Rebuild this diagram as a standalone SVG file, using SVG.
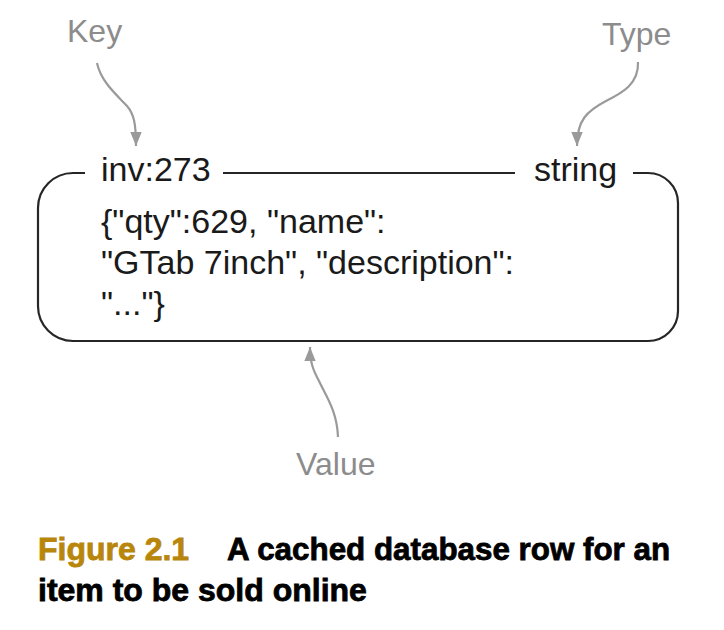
<svg xmlns="http://www.w3.org/2000/svg" width="724" height="630" viewBox="0 0 724 630">
<defs>
<style>
.lbl{font-family:"Liberation Sans",Arial,sans-serif;font-size:32px;fill:#8c8c8c}
.txt{font-family:"Liberation Sans",Arial,sans-serif;font-size:34px;fill:#1a1a1a}
.box{fill:none;stroke:#262626;stroke-width:2.2}
.arr{fill:none;stroke:#9a9a9a;stroke-width:2.2}
.cap{font-family:"Liberation Sans",Arial,sans-serif;font-size:32px;font-weight:bold;stroke-width:0.8}
</style>
<marker id="ah" markerUnits="userSpaceOnUse" markerWidth="14" markerHeight="18" refX="16" refY="6.5" orient="auto" viewBox="0 0 16 13">
<path d="M0,0 L16,6.5 L0,13 Z" fill="#9a9a9a"/>
</marker>
</defs>
<rect width="724" height="630" fill="#ffffff"/>
<g id="record">
<path class="box" d="M85,173 H73 A35,35 0 0 0 38,208 V306 A35,35 0 0 0 73,341 H648 A30,30 0 0 0 678,311 V203 A30,30 0 0 0 648,173 H633"/>
<line class="box" x1="223" y1="173" x2="515" y2="173"/>
<text class="txt" x="101" y="181">inv:273</text>
<text class="txt" x="534" y="181">string</text>
<text class="txt" x="101" y="233">{"qty":629, "name":</text>
<text class="txt" x="101" y="274">"GTab 7inch", "description":</text>
<text class="txt" x="101" y="315">"..."}</text>
</g>
<g id="key-label"><text class="lbl" x="67" y="42">Key</text></g>
<g id="type-label"><text class="lbl" x="602" y="45">Type</text></g>
<g id="value-label"><text class="lbl" x="296" y="475">Value</text></g>
<g id="connectors">
<path class="arr" marker-end="url(#ah)" d="M97,63 C101,82 117,95 127,106 C134,114 136,124 136,146"/>
<path class="arr" marker-end="url(#ah)" d="M638,62 C639,84 622,93 606,101 C587,111 577,120 577,146"/>
<path class="arr" marker-end="url(#ah)" d="M338,437 C337,411 326,396 319,381 C313,370 310,362 310,347"/>
</g>
<g id="caption">
<text class="cap" x="38" y="560" fill="#b8860b" stroke="#b8860b">Figure 2.1</text>
<text class="cap" transform="translate(227,560) scale(0.98,1)" fill="#000" stroke="#000">A cached database row for an</text>
<text class="cap" x="38" y="601" fill="#000" stroke="#000">item to be sold online</text>
</g>
</svg>
